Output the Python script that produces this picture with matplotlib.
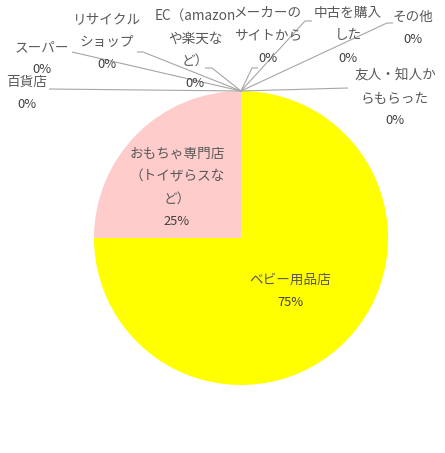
import matplotlib
matplotlib.use("Agg")
import matplotlib.pyplot as plt

# ---- data ----
categories = ["ベビー用品店", "おもちゃ専門店（トイザらスなど）", "百貨店", "スーパー",
              "リサイクルショップ", "EC（amazonや楽天など）", "メーカーのサイトから",
              "中古を購入した", "その他", "友人・知人からもらった"]
values = [75, 25, 0, 0, 0, 0, 0, 0, 0, 0]
colors = ["#FFFF00", "#FFCCCC"] + ["#CCCCCC"] * 8

# label line-breaks as shown in the chart
label_lines = {
    "ベビー用品店": ["ベビー用品店"],
    "おもちゃ専門店（トイザらスなど）": ["おもちゃ専門店", "（トイザらスな", "ど）"],
    "百貨店": ["百貨店"],
    "スーパー": ["スーパー"],
    "リサイクルショップ": ["リサイクル", "ショップ"],
    "EC（amazonや楽天など）": ["EC（amazon", "や楽天な", "ど）"],
    "メーカーのサイトから": ["メーカーの", "サイトから"],
    "中古を購入した": ["中古を購入", "した"],
    "その他": ["その他"],
    "友人・知人からもらった": ["友人・知人か", "らもらった"],
}

plt.rcParams['font.family'] = ['Noto Sans CJK JP', 'DejaVu Sans']

W, H = 445, 453
CX, CY, R = 241, 238, 147
fig = plt.figure(figsize=(W / 100, H / 100), dpi=100)
ax = fig.add_axes([0, 0, 1, 1])

ax.pie(values, colors=colors, startangle=90, counterclock=False, radius=R,
       wedgeprops=dict(linewidth=0), normalize=True)
ax.set_xlim(-CX, W - CX)
ax.set_ylim(-(H - CY), CY)
ax.set_aspect('equal')
ax.axis('off')

def P(px, py):
    return px - CX, CY - py

total = sum(values)
# label layout: (center x, first line y, leader path in pixels or None)
layout = {
    "ベビー用品店": (290, 280, None),
    "おもちゃ専門店（トイザらスなど）": (177, 154, None),
    "百貨店": (27, 82, [(49, 89)]),
    "スーパー": (42, 47, [(72, 52)]),
    "リサイクルショップ": (107, 19, [(137, 52), (143, 52)]),
    "EC（amazonや楽天など）": (195, 16, [(205, 68), (212, 68)]),
    "メーカーのサイトから": (268, 13, [(258, 68), (252, 68)]),
    "中古を購入した": (348, 13, [(312, 21), (305, 21)]),
    "その他": (413, 17, [(393, 23), (387, 23)]),
    "友人・知人からもらった": (395, 76, [(348, 88)]),
}
apex = (CX, CY - R)
LS = 22.5
fs = 9.8
for cat, val in zip(categories, values):
    x, y0, path = layout[cat]
    lines = label_lines[cat]
    for i, ln in enumerate(lines):
        ax.text(*P(x, y0 + i * LS), ln, ha='center', va='center',
                fontsize=fs, color='#595959')
    pct = f"{round(val / total * 100)}%"
    ax.text(*P(x, y0 + len(lines) * LS), pct, ha='center', va='center',
            fontsize=fs * 0.95, color='#404040')
    if path:
        pts = [P(*p) for p in path] + [P(*apex)]
        ax.plot([p[0] for p in pts], [p[1] for p in pts], color='#A6A6A6',
                lw=0.8, solid_capstyle='butt')

fig.savefig("out.png", dpi=100, facecolor='white')
